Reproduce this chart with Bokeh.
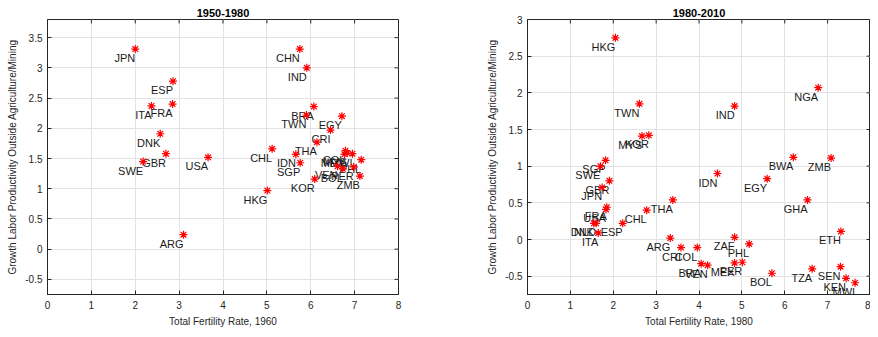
from bokeh.plotting import figure
from bokeh.layouts import row
from bokeh.models import ColumnDataSource, FixedTicker, Range1d
from bokeh.core.properties import value
from bokeh.embed import file_html
from bokeh.resources import INLINE

# ---- 1950-1980 ----
names_a = ["JPN", "CHN", "IND", "ESP", "ITA", "FRA", "BRA", "TWN", "EGY", "CRI",
           "THA", "DNK", "GBR", "SWE", "USA", "CHL", "IDN", "SGP", "KOR", "HKG",
           "ARG", "COL", "MYS", "MWI", "MEX", "PHL", "VEN", "BOL", "PER", "ZMB"]
tfr_1960 = [2.00, 5.75, 5.91, 2.86, 2.37, 2.85, 6.07, 5.90, 6.71, 6.45,
            6.14, 2.57, 2.70, 2.18, 3.66, 5.12, 5.66, 5.76, 6.09, 5.01,
            3.10, 6.79, 6.83, 6.95, 6.77, 7.15, 6.61, 6.73, 6.98, 7.12]
growth_a = [3.31, 3.31, 3.00, 2.78, 2.37, 2.40, 2.36, 2.22, 2.20, 1.97,
            1.77, 1.91, 1.58, 1.45, 1.52, 1.66, 1.57, 1.43, 1.16, 0.97,
            0.24, 1.63, 1.59, 1.58, 1.57, 1.48, 1.37, 1.33, 1.36, 1.21]

# ---- 1980-2010 ----
names_b = ["HKG", "NGA", "TWN", "IND", "MYS", "KOR", "BWA", "ZMB", "SGP", "SWE",
           "GBR", "JPN", "IDN", "EGY", "GHA", "THA", "CHL", "FRA", "USA", "ESP",
           "DNK", "NLD", "ITA", "ARG", "ZAF", "PHL", "ETH", "CRI", "COL", "BRA",
           "VEN", "MEX", "PER", "BOL", "TZA", "SEN", "KEN", "MWI"]
tfr_1980 = [2.05, 6.78, 2.61, 4.83, 2.67, 2.83, 6.20, 7.08, 1.82, 1.70,
            1.91, 1.74, 4.43, 5.59, 6.53, 3.39, 2.78, 1.85, 1.83, 2.22,
            1.55, 1.60, 1.65, 3.33, 4.83, 5.17, 7.31, 3.58, 3.96, 4.05,
            4.20, 4.83, 5.01, 5.70, 6.64, 7.30, 7.43, 7.64]
growth_b = [2.75, 2.07, 1.85, 1.82, 1.41, 1.42, 1.12, 1.11, 1.08, 1.00,
            0.80, 0.71, 0.90, 0.83, 0.54, 0.54, 0.40, 0.44, 0.41, 0.22,
            0.22, 0.22, 0.09, 0.02, 0.03, -0.06, 0.11, -0.11, -0.11, -0.33,
            -0.35, -0.32, -0.31, -0.46, -0.40, -0.37, -0.53, -0.59]

x_ticks = [0, 1, 2, 3, 4, 5, 6, 7, 8]
y_ticks_a = [-0.5, 0, 0.5, 1, 1.5, 2, 2.5, 3, 3.5]
y_ticks_b = [-0.5, 0, 0.5, 1, 1.5, 2, 2.5, 3]

y_label = "Growth Labor Productivity Outside Agriculture/Mining"
AX = "#262626"
FONT = "Liberation Sans"
HEIGHT = 329
TOP = 19
BOTTOM = 32


def make_fig(title, xs, ys, names, ylim, yticks, xlabel, width, bl, br):
    p = figure(width=width, height=HEIGHT, output_backend="svg", toolbar_location=None,
               x_range=Range1d(0, 8), y_range=Range1d(*ylim),
               min_border_left=bl, min_border_right=br, min_border_top=TOP,
               min_border_bottom=BOTTOM, background_fill_color="white",
               border_fill_color="white")
    p.title.text = title
    p.title.text_font = FONT
    p.title.text_font_size = "11px"
    p.title.text_font_style = "bold"
    p.title.align = "center"
    p.title.text_color = "black"
    p.title.standoff = 6
    p.outline_line_color = AX
    p.outline_line_width = 1

    for ax, ticks in ((p.xaxis[0], x_ticks), (p.yaxis[0], yticks)):
        ax.ticker = FixedTicker(ticks=ticks)
        ax.major_label_overrides = {t: "%g" % t for t in ticks}
        ax.major_label_text_font = FONT
        ax.major_label_text_font_size = "10px"
        ax.major_label_text_color = AX
        ax.axis_label_text_font = FONT
        ax.axis_label_text_font_size = "10px"
        ax.axis_label_text_font_style = "normal"
        ax.axis_label_text_color = AX
        ax.major_tick_in = 4
        ax.major_tick_out = 0
        ax.minor_tick_line_color = None
        ax.axis_line_color = AX
        ax.major_tick_line_color = AX
    p.xaxis.axis_label = xlabel
    p.yaxis.axis_label = y_label
    p.xaxis.major_label_standoff = 6
    p.xaxis.axis_label_standoff = 4
    p.yaxis.major_label_standoff = 5
    p.yaxis.axis_label_standoff = 4

    p.xgrid.ticker = FixedTicker(ticks=x_ticks)
    p.ygrid.ticker = FixedTicker(ticks=yticks)
    p.grid.grid_line_color = "#e3e3e3"
    p.grid.grid_line_width = 1

    # inward tick marks on the top and right box edges (mirroring the axes)
    frame_w = width - bl - br
    frame_h = HEIGHT - TOP - BOTTOM
    dy = 4 * (ylim[1] - ylim[0]) / frame_h
    dx = 4 * 8 / frame_w
    p.segment(x0=x_ticks, x1=x_ticks, y0=[ylim[1]] * len(x_ticks),
              y1=[ylim[1] - dy] * len(x_ticks), line_color=AX, line_width=1)
    p.segment(x0=[8] * len(yticks), x1=[8 - dx] * len(yticks), y0=yticks, y1=yticks,
              line_color=AX, line_width=1)

    src = ColumnDataSource(dict(x=xs, y=ys, name=names))
    p.text(x="x", y="y", text="name", source=src, text_align="right",
           text_baseline="top", y_offset=3, text_font=value(FONT),
           text_font_size="11px", text_color="#1a1a1a")
    p.scatter(x="x", y="y", source=src, marker="asterisk", size=8,
              line_color="#ff0000", line_width=1.2)
    return p


p1 = make_fig("1950-1980", tfr_1960, growth_a, names_a, (-0.75, 3.8), y_ticks_a,
              "Total Fertility Rate, 1960", 440, 47, 42)
p2 = make_fig("1980-2010", tfr_1980, growth_b, names_b, (-0.75, 3.0), y_ticks_b,
              "Total Fertility Rate, 1980", 430, 87, 0)

layout = row(p1, p2)
open("out.html", "w").write(file_html(layout, INLINE))
